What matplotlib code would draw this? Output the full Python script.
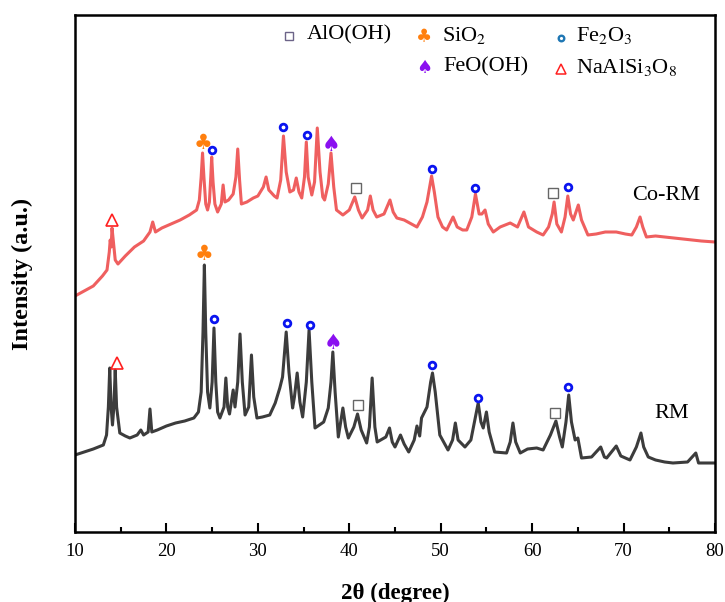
import matplotlib
matplotlib.use("Agg")
import matplotlib.pyplot as plt

plt.rcParams['font.family'] = ['Liberation Serif', 'DejaVu Sans']
plt.rcParams['mathtext.fontset'] = 'stix'

# ---------------- data (arbitrary intensity units) ----------------
corm_theta = [10.0, 11.0, 12.0, 13.0, 13.5, 13.75, 13.85, 13.95, 14.05, 14.2, 14.4, 14.7, 15.5, 16.5, 17.5,
              18.2, 18.5, 18.8, 19.5, 20.5, 21.5, 22.5, 23.3, 23.6, 23.8, 23.95, 24.1, 24.3, 24.5, 24.7,
              24.85, 24.95, 25.1, 25.3, 25.6, 26.0, 26.2, 26.4, 26.8, 27.3, 27.6, 27.8, 28.0, 28.2, 28.8,
              29.5, 30.0, 30.6, 30.9, 31.2, 31.8, 32.1, 32.5, 32.8, 33.1, 33.5, 33.9, 34.2, 34.5, 34.8,
              35.1, 35.3, 35.5, 35.9, 36.2, 36.5, 36.8, 37.1, 37.3, 37.7, 38.0, 38.3, 38.6, 39.3, 40.0,
              40.6, 41.0, 41.4, 42.0, 42.3, 42.6, 43.0, 43.8, 44.45, 44.8, 45.2, 46.0, 46.6, 47.4, 48.0,
              48.5, 49.0, 49.3, 49.7, 50.2, 50.65, 51.35, 51.8, 52.4, 52.85, 53.4, 53.8, 54.2, 54.5, 54.85,
              55.2, 55.75, 56.5, 57.6, 58.4, 59.1, 59.6, 60.5, 61.2, 61.8, 62.2, 62.4, 62.7, 63.2, 63.6,
              63.9, 64.2, 64.5, 64.8, 65.05, 65.4, 66.1, 67.0, 68.0, 69.2, 70.2, 70.9, 71.4, 71.8, 72.1,
              72.5, 73.5, 74.5, 75.5, 76.5, 77.5, 78.5, 80.0]
corm_int = [236, 241, 246, 256, 262, 280, 292, 285, 304, 290, 272, 268, 276, 285, 291,
            300, 310, 300, 304, 308, 312, 317, 322, 332, 355, 379, 355, 328, 322, 330,
            355, 375, 350, 328, 320, 328, 347, 330, 332, 338, 355, 383, 352, 328, 330,
            334, 336, 345, 355, 342, 336, 334, 352, 396, 360, 340, 342, 354, 340, 334,
            355, 390, 355, 337, 350, 404, 360, 335, 332, 348, 379, 345, 322, 317, 322,
            335, 322, 314, 322, 336, 322, 315, 318, 332, 320, 314, 312, 309, 305, 315,
            330, 356, 340, 315, 305, 302, 315, 305, 302, 302, 315, 338, 318, 318, 322,
            308, 300, 305, 309, 305, 320, 305, 300, 297, 305, 318, 330, 308, 300, 315,
            336, 318, 312, 320, 327, 312, 297, 298, 300, 300, 298, 297, 305, 315, 305,
            295, 296, 295, 294, 293, 292, 291, 290]

rm_theta = [10.0, 11.0, 12.0, 13.1, 13.45, 13.65, 13.8, 13.95, 14.1, 14.25, 14.4, 14.55, 14.9, 15.5, 16.0,
            16.8, 17.2, 17.5, 18.0, 18.2, 18.4, 19.0, 20.0, 21.0, 22.0, 23.0, 23.5, 23.8, 24.0, 24.15,
            24.3, 24.5, 24.75, 25.0, 25.2, 25.4, 25.6, 25.85, 26.3, 26.5, 26.7, 26.9, 27.3, 27.5, 27.8,
            28.05, 28.3, 28.6, 29.0, 29.3, 29.55, 29.9, 30.5, 31.3, 31.9, 32.4, 32.7, 33.1, 33.4, 33.8,
            34.0, 34.3, 34.6, 34.9, 35.3, 35.6, 35.9, 36.25, 37.2, 37.7, 38.0, 38.2, 38.45, 38.8, 39.3,
            39.6, 39.9, 40.5, 40.9, 41.3, 41.9, 42.2, 42.5, 42.8, 43.05, 44.0, 44.4, 44.7, 45.0, 45.6,
            46.0, 46.5, 47.1, 47.4, 47.7, 47.9, 48.5, 48.9, 49.1, 49.4, 49.9, 50.8, 51.3, 51.6, 51.9,
            52.65, 53.3, 53.8, 54.1, 54.4, 54.65, 55.0, 55.3, 55.9, 57.2, 57.6, 57.9, 58.2, 58.7, 59.5,
            60.5, 61.2, 62.0, 62.6, 63.0, 63.3, 63.7, 64.0, 64.3, 64.7, 65.0, 65.4, 66.5, 67.5, 67.9,
            68.15, 69.2, 69.7, 70.7, 71.4, 71.9, 72.2, 72.7, 73.5, 74.5, 75.4, 77.0, 77.9, 78.2, 80.0]
rm_int = [77, 80, 83, 87, 97, 125, 164, 125, 107, 125, 162, 125, 99, 96, 94,
          97, 102, 97, 100, 123, 100, 102, 106, 109, 111, 114, 120, 140, 200, 267,
          200, 140, 124, 150, 204, 150, 120, 114, 125, 154, 125, 118, 142, 125, 150,
          198, 150, 117, 125, 177, 135, 114, 115, 117, 129, 144, 155, 200, 160, 124,
          135, 159, 130, 115, 150, 202, 150, 104, 110, 124, 150, 180, 140, 95, 124,
          105, 94, 105, 118, 102, 89, 105, 154, 105, 90, 95, 104, 90, 85, 97,
          88, 80, 92, 106, 96, 114, 125, 150, 159, 140, 97, 82, 92, 109, 92,
          85, 92, 115, 129, 110, 104, 120, 100, 80, 79, 90, 109, 90, 79, 83,
          84, 82, 97, 111, 95, 85, 110, 137, 110, 92, 94, 74, 75, 85, 75,
          74, 86, 76, 72, 85, 99, 85, 75, 72, 70, 69, 70, 79, 69, 69]

# phase markers: (2theta, intensity) for each curve
alooh_pts = [(40.7, 344), (62.3, 339), (40.9, 127), (62.5, 119)]
sio2_pts = [(23.97, 389), (24.1, 278)]
fe2o3_pts = [(24.95, 382), (32.7, 405), (35.4, 397), (49.0, 363), (53.8, 344), (63.9, 345),
             (25.25, 213), (33.15, 209), (35.7, 207), (49.1, 167), (54.1, 134), (63.95, 145)]
feooh_pts = [(37.97, 387), (38.2, 189)]
albite_pts = [(14.05, 312), (14.55, 169)]

sample_labels = ['Co-RM', 'RM']
sample_label_pos = [(74.7, 336), (75.3, 119)]

legend_labels = ['AlO(OH)', r'SiO$_2$', r'Fe$_2$O$_3$', 'FeO(OH)', r'NaAlSi$_3$O$_8$']

xticks = [10, 20, 30, 40, 50, 60, 70, 80]

# ---------------- figure ----------------
fig = plt.figure(figsize=(7.25, 6.02), dpi=100)
ax = fig.add_axes([75/725, 70/602, 640/725, 517/602])

ax.plot(corm_theta, corm_int, color='#ef5f5f', lw=2.2, solid_joinstyle='round')
ax.plot(rm_theta, rm_int, color='#3c3c3c', lw=2.2, solid_joinstyle='round')

sq_kw = dict(marker='s', ms=6.5, mfc='none', mec='#666666', mew=1.0, ls='none')
o_kw = dict(marker='o', ms=4.8, mfc='none', mec='#0a14f0', mew=2.0, ls='none')
tri_kw = dict(marker='^', ms=8.5, mfc='none', mec='#ff2020', mew=1.2, ls='none')

ax.plot([p[0] for p in alooh_pts], [p[1] for p in alooh_pts], **sq_kw)
ax.plot([p[0] for p in fe2o3_pts], [p[1] for p in fe2o3_pts], **o_kw)
ax.plot([p[0] for p in albite_pts], [p[1] for p in albite_pts], **tri_kw)
for x, y in sio2_pts:
    ax.text(x, y, '\u2663', color='#ff7f0e', fontsize=15, ha='center', va='center',
            family='DejaVu Sans')
for x, y in feooh_pts:
    ax.text(x, y, '\u2660', color='#8a10f0', fontsize=15, ha='center', va='center',
            family='DejaVu Sans')

for lab, (x, y) in zip(sample_labels, sample_label_pos):
    ax.text(x, y, lab, fontsize=16, ha='center', va='center')

# legend (drawn manually to match the two-row layout)
ax.plot([33.4], [496], marker='s', ms=5.5, mfc='none', mec='#6c6488', mew=1.0, ls='none')
ax.text(35.3, 497, legend_labels[0], fontsize=16, va='center', ha='left')
ax.text(48.2, 495, '\u2663', color='#ff7f0e', fontsize=13, ha='center', va='center', family='DejaVu Sans')
ax.text(50.1, 497, legend_labels[1], fontsize=16, va='center', ha='left')
ax.plot([63.2], [494], marker='o', ms=4, mfc='none', mec='#1f77b4', mew=1.7, ls='none')
ax.text(64.8, 496, legend_labels[2], fontsize=16, va='center', ha='left')
ax.text(48.2, 464, '\u2660', color='#8a10f0', fontsize=13, ha='center', va='center', family='DejaVu Sans')
ax.text(50.25, 465, legend_labels[3], fontsize=16, va='center', ha='left')
ax.plot([63.2], [463], marker='^', ms=7, mfc='none', mec='#ff2020', mew=1.1, ls='none')
ax.text(64.8, 464, legend_labels[4], fontsize=16, va='center', ha='left')

ax.set_xlim(10, 80)
ax.set_ylim(0, 517)
ax.set_xticks(xticks)
ax.set_xticks(range(15, 80, 10), minor=True)
ax.set_yticks([])
ax.tick_params(axis='x', which='major', direction='in', length=6.5, width=1.5, labelsize=13.5, pad=8)
ax.tick_params(axis='x', which='minor', direction='in', length=3.5, width=1.5)
ax.tick_params(top=False, right=False)
for s in ax.spines.values():
    s.set_linewidth(1.8)

ax.set_xlabel('2\u03b8 (degree)', fontsize=16.5, fontweight='bold', labelpad=16)
ax.set_ylabel('Intensity (a.u.)', fontsize=17.5, fontweight='bold', labelpad=30)

fig.savefig('out.png', dpi=100)
